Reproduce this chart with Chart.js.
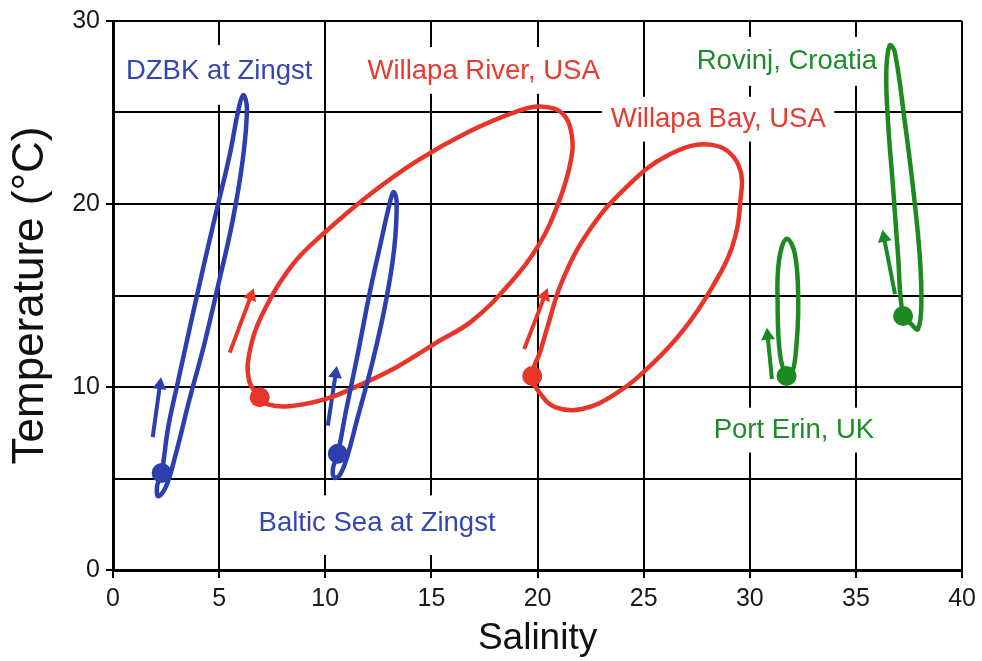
<!DOCTYPE html>
<html>
<head>
<meta charset="utf-8">
<script src="https://cdn.jsdelivr.net/npm/chart.js@4.4.1/dist/chart.umd.min.js"></script>
<style>
  html, body { margin: 0; padding: 0; background: #fff; }
  #wrap { width: 982px; height: 661px; }
</style>
</head>
<body>
<div id="wrap"><canvas id="tsChart"></canvas></div>
<script>
// Annual temperature / salinity loops.
// The first point of every loop is the start marker (the dot).
const dzbkSal  = [2.29, 2.60, 3.07, 3.62, 4.25, 4.87, 5.50, 5.89, 6.13, 6.31, 6.10, 5.63, 5.00, 4.30, 3.59, 2.96, 2.49, 2.13, 2.08];
const dzbkTemp = [5.30, 7.80, 10.34, 13.25, 16.51, 19.60, 22.69, 25.04, 25.95, 25.22, 22.32, 19.06, 15.79, 12.34, 9.26, 6.35, 4.54, 4.03, 4.60];

const balticSal  = [10.59, 10.98, 11.53, 12.08, 12.63, 13.02, 13.21, 13.36, 13.25, 12.86, 12.24, 11.53, 10.98, 10.67, 10.43, 10.36];
const balticTemp = [6.35, 8.71, 11.80, 15.07, 17.97, 19.96, 20.65, 20.14, 17.60, 14.70, 11.43, 8.35, 5.99, 5.17, 5.05, 5.54];

const riverSal  = [6.91, 6.40, 6.45, 7.00, 8.47, 10.04, 12.08, 14.27, 16.78, 18.98, 20.23, 21.17, 21.61, 21.56, 21.01, 20.07, 18.66, 16.90, 15.20, 13.33, 11.60, 10.04, 8.30, 7.30];
const riverTemp = [9.44, 10.40, 12.00, 13.90, 16.70, 18.51, 20.51, 22.32, 23.96, 25.04, 25.32, 24.95, 23.78, 22.32, 20.14, 17.79, 15.61, 13.60, 12.40, 11.07, 10.10, 9.35, 8.95, 9.05];

const baySal  = [19.75, 20.14, 20.46, 21.16, 22.41, 24.14, 26.17, 28.21, 29.46, 29.54, 29.15, 28.21, 26.96, 25.39, 23.67, 22.10, 20.85, 20.14];
const bayTemp = [10.60, 11.98, 13.25, 15.79, 18.51, 20.87, 22.68, 23.23, 22.14, 19.96, 17.60, 15.42, 13.25, 11.25, 9.62, 8.80, 8.89, 9.62];

const erinSal  = [31.73, 31.42, 31.31, 31.37, 31.73, 32.13, 32.28, 32.16, 31.97];
const erinTemp = [10.60, 11.80, 14.50, 16.88, 18.10, 17.24, 14.50, 11.80, 10.71];

const rovinjSal  = [37.22, 36.98, 36.75, 36.51, 36.43, 36.59, 36.83, 37.30, 37.69, 38.00, 38.08, 37.92, 37.60];
const rovinjTemp = [13.88, 17.24, 20.87, 24.50, 27.22, 28.67, 28.30, 24.50, 20.87, 17.24, 14.52, 13.16, 13.44];

// direction arrows: [tail, head]
const dzbkArrowSal    = [1.87, 2.21];
const dzbkArrowTemp   = [7.26, 10.10];
const balticArrowSal  = [10.12, 10.49];
const balticArrowTemp = [7.89, 10.72];
const riverArrowSal   = [5.50, 6.50];
const riverArrowTemp  = [11.88, 14.98];
const bayArrowSal     = [19.37, 20.34];
const bayArrowTemp    = [12.07, 14.99];
const erinArrowSal    = [31.04, 30.84];
const erinArrowTemp   = [10.44, 12.80];
const rovinjArrowSal  = [36.84, 36.32];
const rovinjArrowTemp = [15.07, 18.16];

// axes
const salinityTicks = [0, 5, 10, 15, 20, 25, 30, 35, 40];
const tempGrid      = [0, 5, 10, 15, 20, 25, 30];
const tempLabels    = [0, 10, 20, 30];

const colors = {
    blue: '#2D3FAF',
    red: '#E8352A',
    green: '#1C8A22',
    blueText: '#3546B2',
    redText: '#E83A2E',
    greenText: '#1F8C2A'
};

const FONT = "'Liberation Sans', Arial, Helvetica, sans-serif";

// site names; box = white patch behind the name [xMin, xMax, yMin, yMax]
const siteLabels = [
    { text: 'DZBK at Zingst',       color: colors.blueText,  x: 0.61,  y: 26.84, box: [0.24, 9.64, 25.42, 28.69] },
    { text: 'Willapa River, USA',   color: colors.redText,   x: 11.99, y: 26.84, box: [11.61, 23.36, 26.02, 28.58] },
    { text: 'Willapa Bay, USA',     color: colors.redText,   x: 23.45, y: 24.23, box: [23.03, 33.98, 23.41, 25.86] },
    { text: 'Rovinj, Croatia',      color: colors.greenText, x: 27.50, y: 27.39, box: [27.12, 36.24, 26.46, 29.13] },
    { text: 'Port Erin, UK',        color: colors.greenText, x: 28.30, y: 7.24,  box: [27.83, 36.29, 6.42, 8.87] },
    { text: 'Baltic Sea at Zingst', color: colors.blueText,  x: 6.86,  y: 2.12,  box: [6.44, 18.43, 0.82, 4.08] }
];

function pts(xs, ys) {
    return xs.map((x, i) => ({ x: x, y: ys[i] }));
}

function loopSet(xs, ys, color) {
    return {
        data: pts(xs, ys),
        closed: true,
        borderColor: color,
        backgroundColor: color,
        borderWidth: 4.5,
        tension: 0.4,
        spanGaps: true,
        fill: false,
        pointRadius: ctx => ctx.dataIndex === 0 ? 10 : 0,
        pointHoverRadius: ctx => ctx.dataIndex === 0 ? 10 : 0,
        pointBackgroundColor: color,
        pointBorderWidth: 0
    };
}

function headAngle(ctx) {
    const d = ctx.dataset.data;
    const sx = ctx.chart.scales.x, sy = ctx.chart.scales.y;
    const dx = sx.getPixelForValue(d[1].x) - sx.getPixelForValue(d[0].x);
    const dy = sy.getPixelForValue(d[1].y) - sy.getPixelForValue(d[0].y);
    return Math.atan2(dx, -dy) * 180 / Math.PI;
}

function arrowSet(xs, ys, color) {
    return {
        data: pts(xs, ys),
        borderColor: color,
        backgroundColor: color,
        borderWidth: 4,
        tension: 0,
        fill: false,
        pointStyle: 'triangle',
        pointRadius: ctx => ctx.dataIndex === 1 ? 8 : 0,
        pointHoverRadius: ctx => ctx.dataIndex === 1 ? 8 : 0,
        pointRotation: headAngle,
        pointBackgroundColor: color,
        pointBorderWidth: 0
    };
}

// line elements have a closed-path mode (used by radar); switch it on for the loops
const closeLoops = {
    id: 'closeLoops',
    beforeDatasetsDraw(chart) {
        chart.data.datasets.forEach((ds, i) => {
            if (!ds.closed) return;
            const line = chart.getDatasetMeta(i).dataset;
            if (!line) return;
            line._loop = true;
            line._fullLoop = true;
            line._pointsUpdated = false;
            line._segments = undefined;
            line._path = undefined;
        });
    }
};

const siteLabelPlugin = {
    id: 'siteLabels',
    beforeDatasetsDraw(chart) {
        const { ctx, scales: { x, y } } = chart;
        ctx.save();
        ctx.fillStyle = '#fff';
        siteLabels.forEach(l => {
            const x0 = x.getPixelForValue(l.box[0]), x1 = x.getPixelForValue(l.box[1]);
            const y0 = y.getPixelForValue(l.box[3]), y1 = y.getPixelForValue(l.box[2]);
            ctx.fillRect(x0, y0, x1 - x0, y1 - y0);
        });
        ctx.restore();
    },
    afterDatasetsDraw(chart) {
        const { ctx, scales: { x, y } } = chart;
        ctx.save();
        ctx.font = '27.5px ' + FONT;
        ctx.textAlign = 'left';
        ctx.textBaseline = 'alphabetic';
        siteLabels.forEach(l => {
            ctx.fillStyle = l.color;
            ctx.fillText(l.text, x.getPixelForValue(l.x), y.getPixelForValue(l.y));
        });
        ctx.restore();
    }
};

Chart.defaults.font.family = FONT;

const tsChart = new Chart(document.getElementById('tsChart'), {
    type: 'line',
    data: {
        datasets: [
            loopSet(dzbkSal, dzbkTemp, colors.blue),
            loopSet(balticSal, balticTemp, colors.blue),
            loopSet(riverSal, riverTemp, colors.red),
            loopSet(baySal, bayTemp, colors.red),
            loopSet(erinSal, erinTemp, colors.green),
            loopSet(rovinjSal, rovinjTemp, colors.green),
            arrowSet(dzbkArrowSal, dzbkArrowTemp, colors.blue),
            arrowSet(balticArrowSal, balticArrowTemp, colors.blue),
            arrowSet(riverArrowSal, riverArrowTemp, colors.red),
            arrowSet(bayArrowSal, bayArrowTemp, colors.red),
            arrowSet(erinArrowSal, erinArrowTemp, colors.green),
            arrowSet(rovinjArrowSal, rovinjArrowTemp, colors.green)
        ]
    },
    options: {
        responsive: true,
        maintainAspectRatio: false,
        animation: false,
        layout: {
            padding: { left: 0, right: 18, top: 19, bottom: 0 }
        },
        plugins: {
            legend: { display: false },
            tooltip: { enabled: false }
        },
        scales: {
            x: {
                type: 'linear',
                min: 0,
                max: 40,
                afterBuildTicks: scale => { scale.ticks = salinityTicks.map(v => ({ value: v })); },
                afterFit: scale => { scale.height = 91; },
                grid: {
                    color: '#000',
                    lineWidth: 2,
                    tickLength: 8,
                    tickColor: '#000',
                    tickWidth: 2
                },
                border: { display: true, color: '#000', width: 3 },
                ticks: {
                    color: '#1a1a1a',
                    padding: 6,
                    maxRotation: 0,
                    font: { size: 25 }
                },
                title: {
                    display: true,
                    text: 'Salinity',
                    color: '#111',
                    font: { size: 37 },
                    padding: { top: 0, bottom: 0 }
                }
            },
            y: {
                type: 'linear',
                min: 0,
                max: 30,
                afterBuildTicks: scale => { scale.ticks = tempGrid.map(v => ({ value: v })); },
                afterFit: scale => { scale.width = 113; },
                grid: {
                    color: '#000',
                    lineWidth: 2,
                    tickLength: 7,
                    tickWidth: 2,
                    tickColor: ctx => tempLabels.includes(ctx.tick.value) ? '#000' : 'rgba(0,0,0,0)'
                },
                border: { display: true, color: '#000', width: 3 },
                ticks: {
                    color: '#1a1a1a',
                    padding: 6,
                    font: { size: 25 },
                    callback: v => tempLabels.includes(v) ? String(v) : ''
                },
                title: {
                    display: true,
                    text: 'Temperature (°C)',
                    color: '#111',
                    font: { size: 44 },
                    padding: { top: 4, bottom: 0 }
                }
            }
        }
    },
    plugins: [closeLoops, siteLabelPlugin]
});
</script>
</body>
</html>
